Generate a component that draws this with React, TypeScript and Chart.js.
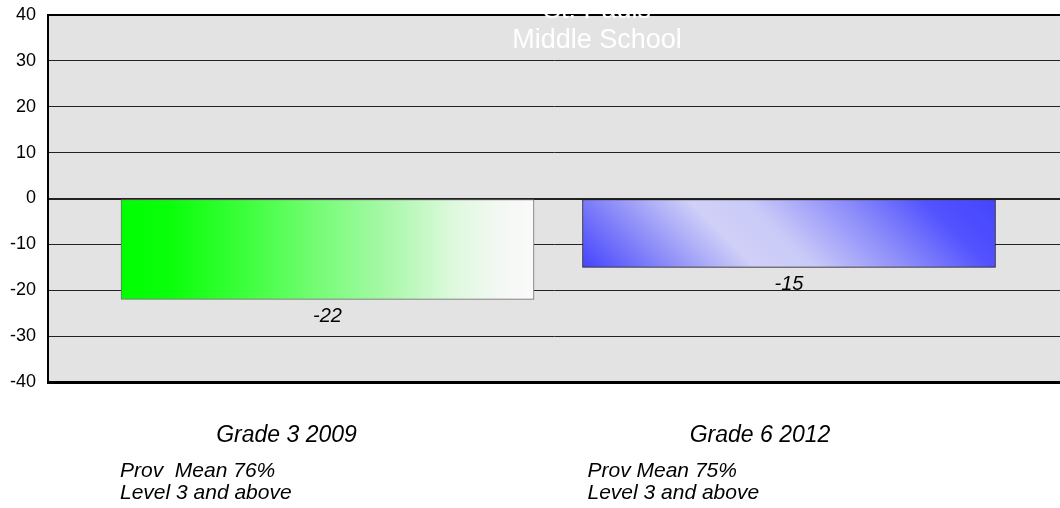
import React, { useEffect, useRef } from "react";
import { Chart, registerables } from "chart.js";

Chart.register(...registerables);

const categories = ["Grade 3 2009", "Grade 6 2012"];
const subLine1 = ["Prov  Mean 76%", "Prov Mean 75%"];
const subLine2 = ["Level 3 and above", "Level 3 and above"];
const values = [-22, -15];
const valueLabels = ["-22", "-15"];
const yTicks = [40, 30, 20, 10, 0, -10, -20, -30, -40];
const titleLines = ["St. Pauls", "Middle School"];

const FONT = "'Liberation Sans', Arial, sans-serif";

function barBox(chart: any, i: number) {
  const xs = chart.scales.x;
  const ys = chart.scales.y;
  const cx = xs.getPixelForValue(i + 1);
  return {
    left: cx - 206.5,
    right: cx + 206.5,
    top: ys.getPixelForValue(0),
    bottom: ys.getPixelForValue(values[i]),
  };
}

function makeFill(ctx: any) {
  const chart = ctx.chart;
  if (!chart.chartArea || ctx.type !== "data") return "#00ff00";
  const i = ctx.dataIndex;
  const b = barBox(chart, i);
  const c = chart.ctx as CanvasRenderingContext2D;
  if (i === 0) {
    const g = c.createLinearGradient(b.left, 0, b.right, 0);
    g.addColorStop(0, "#00ff00");
    g.addColorStop(0.12, "#0aff0a");
    g.addColorStop(0.3, "#3cff3c");
    g.addColorStop(0.5, "#7dfc7d");
    g.addColorStop(0.65, "#aaf8aa");
    g.addColorStop(0.8, "#dcf9dc");
    g.addColorStop(0.92, "#f4f8f4");
    g.addColorStop(1, "#fafafa");
    return g;
  }
  const mx = (b.left + b.right) / 2;
  const my = (b.top + b.bottom) / 2;
  const half = 170 / Math.SQRT2;
  const g = c.createLinearGradient(mx - half, my + half, mx + half, my - half);
  g.addColorStop(0, "#4444ff");
  g.addColorStop(0.22, "#9a9af8");
  g.addColorStop(0.36, "#d0d0f8");
  g.addColorStop(0.48, "#cacaf8");
  g.addColorStop(0.68, "#8c8cfb");
  g.addColorStop(0.85, "#5252ff");
  g.addColorStop(1, "#4444ff");
  return g;
}

const decorPlugin = {
  id: "decor",
  beforeDraw(chart: any) {
    const c = chart.ctx as CanvasRenderingContext2D;
    const a = chart.chartArea;
    c.save();
    c.fillStyle = "#ffffff";
    c.fillRect(0, 0, chart.width, chart.height);
    c.fillStyle = "#e3e3e3";
    c.fillRect(Math.round(a.left), Math.round(a.top), Math.round(a.right - a.left), Math.round(a.bottom - a.top));
    c.restore();
  },
  afterDatasetsDraw(chart: any) {
    const c = chart.ctx as CanvasRenderingContext2D;
    const a = chart.chartArea;
    const meta = chart.getDatasetMeta(0);
    c.save();
    c.fillStyle = "#000";
    c.font = `italic 20px ${FONT}`;
    c.textAlign = "center";
    c.textBaseline = "middle";
    meta.data.forEach((el: any, i: number) => {
      c.fillText(valueLabels[i], el.x, el.y + 17);
    });
    c.fillStyle = "#000";
    c.fillRect(a.left, a.top - 1, a.right - a.left, 2);
    c.fillRect(a.left - 1, a.bottom - 1, a.right - a.left + 1, 3);
    const offs = [-41, -29];
    const leftOffs = [-1, 5];
    meta.data.forEach((el: any, i: number) => {
      c.textAlign = "center";
      c.textBaseline = "alphabetic";
      c.font = `italic 23px ${FONT}`;
      c.fillText(categories[i], el.x + offs[i], 442);
      c.textAlign = "left";
      c.font = `italic 21px ${FONT}`;
      const lx = el.x - 206.5 + leftOffs[i];
      c.fillText(subLine1[i], lx, 477);
      c.fillText(subLine2[i], lx, 499);
    });
    c.fillStyle = "#ffffff";
    c.textAlign = "center";
    c.font = `27px ${FONT}`;
    c.fillText(titleLines[0], 597, 18);
    c.fillText(titleLines[1], 597, 48);
    c.restore();
  },
};

export default function App() {
  const ref = useRef<HTMLCanvasElement | null>(null);
  useEffect(() => {
    document.body.style.margin = "0";
    const canvas = ref.current!;
    const chart = new Chart(canvas, {
      type: "bar",
      data: {
        datasets: [
          {
            data: values.map((v, i) => ({ x: i + 1, y: v })),
            backgroundColor: makeFill as any,
            borderColor: ["#6e6e6e", "#1e1e1e"],
            borderWidth: 1,
            borderSkipped: false,
            barThickness: 413,
          } as any,
        ],
      },
      options: {
        animation: false,
        responsive: false,
        devicePixelRatio: 1,
        layout: { padding: { top: 15, right: 0, bottom: 126, left: 0 } },
        plugins: {
          legend: { display: false },
          tooltip: { enabled: false },
          title: { display: false },
        },
        scales: {
          x: {
            type: "linear",
            min: 0.3944,
            max: 2.5872,
            offset: false,
            display: false,
            grid: { display: false },
          },
          y: {
            min: -40,
            max: 40,
            afterFit: (s: any) => {
              s.width = 48;
              s.paddingTop = 0;
              s.paddingBottom = 0;
            },
            afterBuildTicks: (s: any) => {
              s.ticks = yTicks.map((v) => ({ value: v }));
            },
            ticks: {
              stepSize: 10,
              color: "#000",
              padding: 12,
              font: { family: FONT, size: 18 },
            },
            grid: {
              color: "#222",
              lineWidth: (ctx: any) => (ctx.tick && ctx.tick.value === 0 ? 2 : 1),
              drawTicks: false,
            },
            border: { display: true, color: "#000", width: 2 },
          },
        },
      },
      plugins: [decorPlugin],
    });
    return () => chart.destroy();
  }, []);
  return (
    <div style={{ position: "absolute", left: 0, top: 0, width: 1060, height: 508 }}>
      <canvas ref={ref} width={1060} height={508} style={{ display: "block" }} />
    </div>
  );
}
